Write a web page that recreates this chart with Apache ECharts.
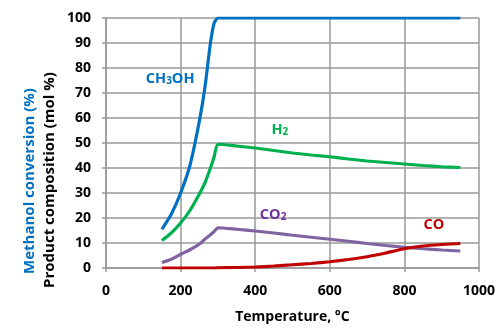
<!DOCTYPE html>
<html>
<head>
<meta charset="utf-8">
<script src="https://cdn.jsdelivr.net/npm/echarts@6/dist/echarts.min.js"></script>
<style>
html, body { margin: 0; padding: 0; background: #fff; }
#main { width: 504px; height: 329px; }
</style>
</head>
<body>
<div id="main"></div>
<script>
// temperatures (°C) shared by all curves
var temps = [150, 175, 200, 225, 250, 265, 280, 290, 300, 350, 400, 450, 500, 550, 600, 650, 700, 750, 800, 850, 900, 950];
var ch3oh = [15.5, 21.5, 30, 41, 58.5, 72, 90, 98, 100, 100, 100, 100, 100, 100, 100, 100, 100, 100, 100, 100, 100, 100];
var h2 = [11, 14, 18, 23, 29.5, 34, 40, 44.5, 49.5, 48.8, 48, 47, 46, 45.2, 44.5, 43.6, 42.8, 42.2, 41.6, 41, 40.5, 40.2];
var co2 = [2.2, 3.5, 5.5, 7.3, 9.5, 11.5, 13.3, 14.6, 16.1, 15.5, 14.8, 14, 13.1, 12.3, 11.5, 10.7, 9.8, 9, 8.3, 7.7, 7.2, 6.8];
var co = [0, 0, 0, 0, 0, 0, 0, 0, 0.05, 0.2, 0.4, 0.8, 1.3, 1.8, 2.5, 3.4, 4.5, 6, 7.7, 8.8, 9.4, 9.8];
var xTicks = [0, 200, 400, 600, 800, 1000];

var fontFam = '"Open Sans", sans-serif';

function pairs(vals) {
    return temps.map(function (t, i) { return [t, vals[i]]; });
}

// name label placed at a data position
function tag(coord, text, color) {
    return {
        coord: coord,
        symbol: 'circle',
        symbolSize: 0,
        label: {
            show: true,
            position: 'inside',
            formatter: text,
            rich: {
                a: { fontFamily: fontFam, fontSize: 14.5, fontWeight: 'bold', color: color },
                s: { fontFamily: fontFam, fontSize: 10, fontWeight: 'bold', color: color, verticalAlign: 'bottom', padding: [4, 0, 0, 0] }
            }
        }
    };
}

function line(name, vals, color, label) {
    return {
        name: name,
        type: 'line',
        data: pairs(vals),
        showSymbol: false,
        smooth: 0.2,
        lineStyle: { color: color, width: 3.2 },
        itemStyle: { color: color },
        markPoint: { silent: true, data: [label] }
    };
}

var myChart = echarts.init(document.getElementById('main'));
var option = {
    animation: false,
    backgroundColor: '#fff',
    grid: { left: 106, right: 25, top: 18, bottom: 61 },
    xAxis: {
        type: 'value',
        min: 0,
        max: 1000,
        interval: 200,
        name: 'Temperature, °C',
        nameLocation: 'middle',
        nameGap: 42,
        nameTextStyle: { fontFamily: fontFam, fontSize: 14, fontWeight: 'bold', color: '#000' },
        axisLine: { lineStyle: { color: '#999', width: 1.5 } },
        axisTick: { show: true, length: 4, lineStyle: { color: '#999', width: 1.5 } },
        axisLabel: {
            margin: 16, fontFamily: fontFam, fontSize: 14, fontWeight: 'bold', color: '#000',
            formatter: function (v) { return xTicks.indexOf(v) >= 0 ? String(v) : ''; }
        },
        splitLine: { show: true, lineStyle: { color: '#999', width: 1.5 } }
    },
    yAxis: {
        type: 'value',
        min: 0,
        max: 100,
        interval: 10,
        axisLine: { show: true, lineStyle: { color: '#999', width: 1.5 } },
        axisTick: { show: true, length: 4, lineStyle: { color: '#999', width: 1.5 } },
        axisLabel: { margin: 15, fontFamily: fontFam, fontSize: 14, fontWeight: 'bold', color: '#000' },
        splitLine: { show: true, lineStyle: { color: '#999', width: 1.5 } }
    },
    graphic: [
        {
            type: 'text', x: 30, y: 181, rotation: Math.PI / 2,
            style: { text: 'Methanol conversion (%)', fill: '#0070c0', fontFamily: fontFam, fontSize: 15, fontWeight: 'bold', align: 'center', verticalAlign: 'middle' }
        },
        {
            type: 'text', x: 50, y: 180, rotation: Math.PI / 2,
            style: { text: 'Product composition (mol %)', fill: '#000', fontFamily: fontFam, fontSize: 15, fontWeight: 'bold', align: 'center', verticalAlign: 'middle' }
        }
    ],
    series: [
        line('CH3OH', ch3oh, '#0070c0', tag([172, 75.6], '{a|CH}{s|3}{a|OH}', '#0070c0')),
        line('H2', h2, '#00b050', tag([466, 55.2], '{a|H}{s|2}', '#00b050')),
        line('CO2', co2, '#8064a2', tag([448, 21.2], '{a|CO}{s|2}', '#7030a0')),
        line('CO', co, '#c00000', tag([879, 17.2], '{a|CO}', '#c00000'))
    ]
};
myChart.setOption(option);
</script>
</body>
</html>
